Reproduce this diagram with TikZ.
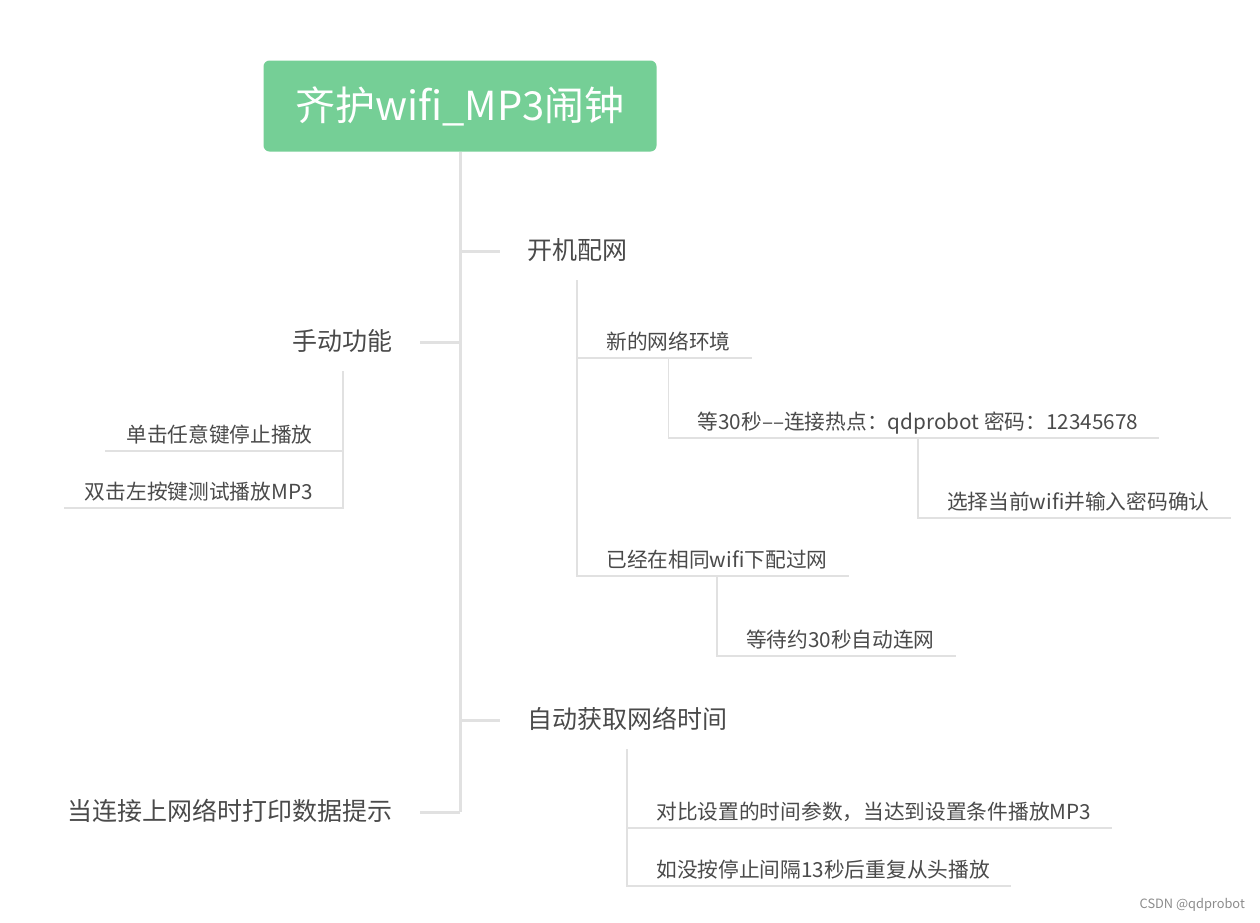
\documentclass[tikz,border=0pt]{standalone}
\usepackage{fontspec}
\usepackage{tikz}
\newfontfamily\cjk{Noto Sans CJK SC}
\newcommand{\rootfont}{\cjk\fontsize{40pt}{46pt}\selectfont}
\newcommand{\topicfont}{\cjk\fontsize{25pt}{30pt}\selectfont}
\newcommand{\leaffont}{\cjk\fontsize{20.7pt}{25pt}\selectfont}
\definecolor{rootgreen}{HTML}{75CF96}
\definecolor{inkgray}{HTML}{4A4A4A}
\definecolor{linegray}{HTML}{E1E1E1}

\begin{document}
\begin{tikzpicture}[x=1pt,y=-1pt,
  root/.style={fill=rootgreen,rounded corners=6pt,text=white,font=\rootfont,
    minimum width=393pt,minimum height=91pt,inner sep=0pt},
  topic/.style={font=\topicfont,text=inkgray,inner xsep=0pt,inner ysep=16.5pt,
    text height=21pt,text depth=4pt},
  leaf/.style={font=\leaffont,text=inkgray,inner xsep=21pt,inner ysep=5pt,
    text height=18pt,text depth=3pt},
  trunk/.style={draw=linegray,line width=3pt},
  sub/.style={draw=linegray,line width=1.5pt},
  credit/.style={font=\cjk\fontsize{12.8pt}{14pt}\selectfont,text=black!45,inner sep=0pt}]
\path[fill=white,use as bounding box] (0,0) rectangle (1260,922);

\node[root] (root) at (460,106) {齐护wifi\_MP3闹钟};

% main topics
\node[topic,anchor=west] (boot)   at (527,251) {开机配网};
\node[topic,anchor=east] (manual) at (393,342) {手动功能};
\node[topic,anchor=west] (ntp)    at (527,720) {自动获取网络时间};
\node[topic,anchor=east] (notice) at (393,812) {当连接上网络时打印数据提示};

\draw[trunk] (root.south) -- (root.south |- notice.east);
\draw[trunk] (root.south |- boot.west)   -- ([xshift=-27pt]boot.west);
\draw[trunk] (root.south |- manual.east) -- ([xshift=27pt]manual.east);
\draw[trunk] (root.south |- ntp.west)    -- ([xshift=-27pt]ntp.west);
\draw[trunk] (root.south |- notice.east) -- ([xshift=27pt]notice.east);

% network setup
\node[leaf,anchor=south west,xshift=8pt] (newnet)  at (boot.south |- 0,358) {新的网络环境};
\node[leaf,anchor=south west,xshift=8pt] (samenet) at (boot.south |- 0,576) {已经在相同wifi下配过网};
\draw[sub] (boot.south |- newnet.south) -- (newnet.south east);
\draw[sub] (boot.south) |- (samenet.south east);

\node[leaf,anchor=south west,xshift=8pt] (hotspot) at (newnet.south |- 0,438) {等30秒––连接热点：qdprobot 密码：12345678};
\draw[sub] (newnet.south) |- (hotspot.south east);

\node[leaf,anchor=south west,xshift=8pt] (pick) at (hotspot.south |- 0,518) {选择当前wifi并输入密码确认};
\draw[sub] (hotspot.south) |- (pick.south east);

\node[leaf,anchor=south west,xshift=8pt] (autojoin) at (samenet.south |- 0,656) {等待约30秒自动连网};
\draw[sub] (samenet.south) |- (autojoin.south east);

% manual keys
\node[leaf,anchor=south east,xshift=-9pt] (click) at (manual.south |- 0,451) {单击任意键停止播放};
\node[leaf,anchor=south east,xshift=-9pt] (dblclick) at (manual.south |- 0,508) {双击左按键测试播放MP3};
\draw[sub] (click.south west) -- (manual.south |- click.south);
\draw[sub] (manual.south) |- (dblclick.south west);

% network time
\node[leaf,anchor=south west,xshift=8pt] (compare) at (ntp.south |- 0,828) {对比设置的时间参数，当达到设置条件播放MP3};
\node[leaf,anchor=south west,xshift=8pt] (replay)  at (ntp.south |- 0,886) {如没按停止间隔13秒后重复从头播放};
\draw[sub] (ntp.south |- compare.south) -- (compare.south east);
\draw[sub] (ntp.south) |- (replay.south east);

\node[credit,anchor=east] (csdn) at (1245,905) {CSDN @qdprobot};
\end{tikzpicture}
\end{document}
